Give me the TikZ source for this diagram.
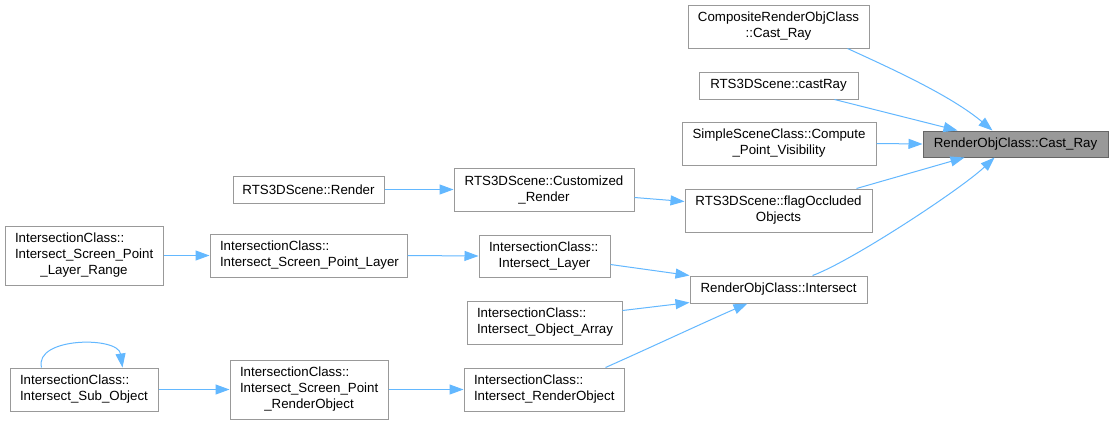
\documentclass[tikz,border=0pt]{standalone}
\usepackage{fontspec}
\setmainfont{Liberation Sans}
\usetikzlibrary{arrows.meta,calc}
\definecolor{boxgray}{HTML}{999999}
\definecolor{maingray}{HTML}{666666}
\definecolor{edgeblue}{HTML}{63B8FF}
\tikzset{
  box/.style={draw=boxgray, fill=white, line width=1pt, inner sep=0pt,
    font=\fontsize{13.3}{16}\selectfont, align=center},
  lbox/.style={draw=boxgray, fill=white, line width=1pt, inner xsep=10pt, inner ysep=0pt,
    font=\fontsize{13.3}{16}\selectfont, align=left},
  mainbox/.style={box, draw=maingray, fill=boxgray},
  edge/.style={draw=edgeblue, line width=1pt, -{Triangle[length=14pt,width=10pt]}}
}
\begin{document}
\begin{tikzpicture}[x=1pt,y=-1pt]
\path[fill=white] (0,0) rectangle (1113,424);
\useasboundingbox (0,0) rectangle (1113,424);

% right column
\node[box, minimum width=181, minimum height=43] (comp) at (778.5,26.5) {CompositeRenderObjClass\\::Cast\_Ray};
\node[box, minimum width=159, minimum height=27] (castray) at (778.5,85.5) {RTS3DScene::castRay};
\node[box, minimum width=194, minimum height=43] (simple) at (779,143.5) {SimpleSceneClass::Compute\\\_Point\_Visibility};
\node[mainbox, minimum width=185, minimum height=26] (cast) at (1015.5,144) {RenderObjClass::Cast\_Ray};
\node[box, minimum width=187, minimum height=43] (flag) at (778.5,210.5) {RTS3DScene::flagOccluded\\Objects};
\node[box, minimum width=177, minimum height=27] (inter) at (778.5,289.5) {RenderObjClass::Intersect};

% middle
\node[box, minimum width=151, minimum height=27] (render) at (308.5,189.5) {RTS3DScene::Render};
\node[box, minimum width=180, minimum height=43] (cust) at (544,189.5) {RTS3DScene::Customized\\\_Render};
\node[lbox, text width=111, minimum height=42] (layer) at (544.5,256) {IntersectionClass::\\\makebox[111pt][c]{Intersect\_Layer}};
\node[lbox, text width=135, minimum height=43] (arr) at (544.5,322.5) {IntersectionClass::\\Intersect\_Object\_Array};
\node[lbox, text width=140, minimum height=43] (ro) at (544,389.5) {IntersectionClass::\\Intersect\_RenderObject};

% left
\node[lbox, text width=138, minimum height=59] (range) at (84,255.5) {IntersectionClass::\\Intersect\_Screen\_Point\\\makebox[138pt][c]{\_Layer\_Range}};
\node[lbox, text width=177, minimum height=43] (spl) at (308.5,255.5) {IntersectionClass::\\Intersect\_Screen\_Point\_Layer};
\node[lbox, text width=128, minimum height=43] (sub) at (84,389.5) {IntersectionClass::\\Intersect\_Sub\_Object};
\node[lbox, text width=138, minimum height=59] (spro) at (309,389.5) {IntersectionClass::\\Intersect\_Screen\_Point\\\makebox[138pt][c]{\_RenderObject}};

% edges into Cast_Ray
\draw[edge] ($(comp.south west)+(160,0)$) .. controls (890,68) and (950,95) .. ($(cast.north west)+(70,0)$);
\draw[edge] ($(castray.south west)+(136,0)$) -- ($(cast.north west)+(35,0)$);
\draw[edge] (simple.east) -- (cast.west);
\draw[edge] ($(flag.north west)+(172,0)$) -- ($(cast.south west)+(42,0)$);
\draw[edge] ($(inter.north west)+(123,0)$) .. controls (850,262) and (960,190) .. ($(cast.south west)+(72,0)$);

% middle edges
\draw[edge] (render.east) -- (cust.west);
\draw[edge] ($(cust.north east)+(0,30)$) -- ($(flag.north west)+(0,13)$);
\draw[edge] ($(layer.north east)+(0,30)$) -- (inter.north west);
\draw[edge] ($(arr.north east)+(0,10)$) -- ($(inter.south west)+(0,-1)$);
\draw[edge] ($(ro.north west)+(142,0)$) .. controls (645,350) and (705,322) .. ($(inter.south west)+(58,0)$);

% left edges
\draw[edge] (range.east) -- (spl.west);
\draw[edge] (spl.east) -- (layer.west);
\draw[edge] (sub.east) -- (spro.west);
\draw[edge] (spro.east) -- (ro.west);

% self loop
\draw[edge] ($(sub.north west)+(32,0)$) .. controls (34,337) and (118,336) .. ($(sub.north west)+(113,0)$);
\end{tikzpicture}
\end{document}
